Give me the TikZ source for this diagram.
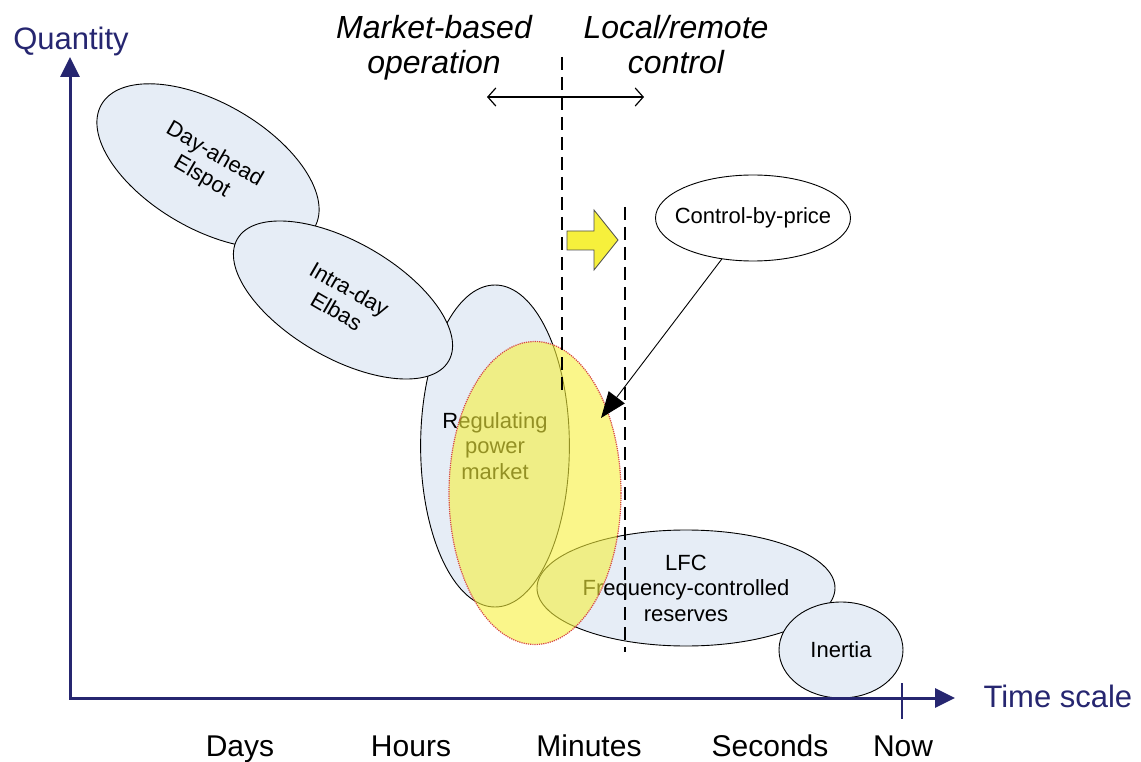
\documentclass[tikz,border=0pt]{standalone}
\usepackage{fontspec}
\setmainfont{Liberation Sans}
\usetikzlibrary{arrows.meta,shapes.geometric}
\definecolor{axisblue}{RGB}{38,38,112}
\definecolor{bubble}{RGB}{230,237,246}
\definecolor{regyellow}{RGB}{246,240,60}
\definecolor{regred}{RGB}{215,70,70}
\tikzset{market/.style={ellipse,draw=black,line width=0.9pt,fill=bubble,inner sep=0pt,align=center,font=\fontsize{22}{25.5}\selectfont},
  axislabel/.style={text=axisblue,font=\fontsize{31}{36}\selectfont},
  timelabel/.style={anchor=base,font=\fontsize{30}{36}\selectfont},
  heading/.style={anchor=base,align=center,font=\fontsize{32}{35}\selectfont\itshape},
  divider/.style={line width=1.8pt,dash pattern=on 13pt off 7pt}}

\begin{document}
\begin{tikzpicture}[x=1pt,y=-1pt]
\useasboundingbox (0,0) rectangle (1141,762);

          \node[market,minimum width=246pt,minimum height=126pt,rotate=-30] (dayahead) at (208,166) {Day-ahead\\Elspot};
          \node[market,minimum width=144pt,minimum height=322pt] (regulating) at (495,446) {Regulating\\power\\market};
          \node[market,minimum width=244pt,minimum height=116pt,rotate=-30] (intraday) at (343,300) {Intra-day\\Elbas};
          \node[market,minimum width=298pt,minimum height=116pt] (lfc) at (686,588) {LFC\\Frequency-controlled\\reserves};
          \node[ellipse,minimum width=172pt,minimum height=303pt,fill=regyellow,fill opacity=0.6,draw=regred,densely dotted,line width=1.2pt] (window) at (535,493) {};
          \node[market,minimum width=124pt,minimum height=96pt] (inertia) at (841,650) {Inertia};
          \node[market,fill=white,inner xsep=-12pt,minimum width=195pt,minimum height=86pt] (cbp) at (753,218) {Control-by-price};

          \coordinate (mtop) at (562,57);
          \coordinate (mbot) at (562,390);
          \coordinate (ctop) at (625,207);
          \coordinate (cbot) at (625,652);
          \draw[divider] (mtop) -- (mbot);
          \draw[divider] (ctop) -- (cbot);

          \coordinate (mleft) at (487,97);
          \coordinate (mright) at (644,97);
          \draw[line width=1.2pt,{Straight Barb[length=8pt,width=18pt]}-{Straight Barb[length=8pt,width=18pt]}] (mleft) -- (mright);
          \node[heading] (marketop) at (434,74) {Market-based\\operation};
          \node[heading] (localctrl) at (676,74) {Local/remote\\control};

          \draw[fill=regyellow,draw=black!70,line width=0.8pt] (567,231) -- (594,231) -- (594,210) -- (618,240) -- (594,270) -- (594,250) -- (567,250) -- cycle;

          \coordinate (cbptip) at (601,418);
          \draw[line width=0.9pt,-{Triangle[length=26pt,width=20pt]}] (cbp) -- (cbptip);

          \coordinate (origin) at (70,698);
          \coordinate (qtop) at (70,57);
          \coordinate (ttip) at (955,698);
          \coordinate (nowtop) at (902,683);
          \coordinate (nowbot) at (902,719);
          \draw[axisblue,line width=3pt,{Triangle[length=20pt,width=19pt]}-{Triangle[length=20pt,width=19pt]}] (qtop) -- (origin) -- (ttip);
          \draw[axisblue,line width=2.5pt] (nowtop) -- (nowbot);
          \node[axislabel,anchor=base] (quantity) at (71,50) {Quantity};
          \node[axislabel,anchor=base west] (timescale) at (980,707) {Time scale};

          \foreach \lab/\xx in {Days/240,Hours/411,Minutes/589,Seconds/770,Now/903}
            \node[timelabel] (\lab) at (\xx,756) {\lab};

        \end{tikzpicture}
\end{document}
